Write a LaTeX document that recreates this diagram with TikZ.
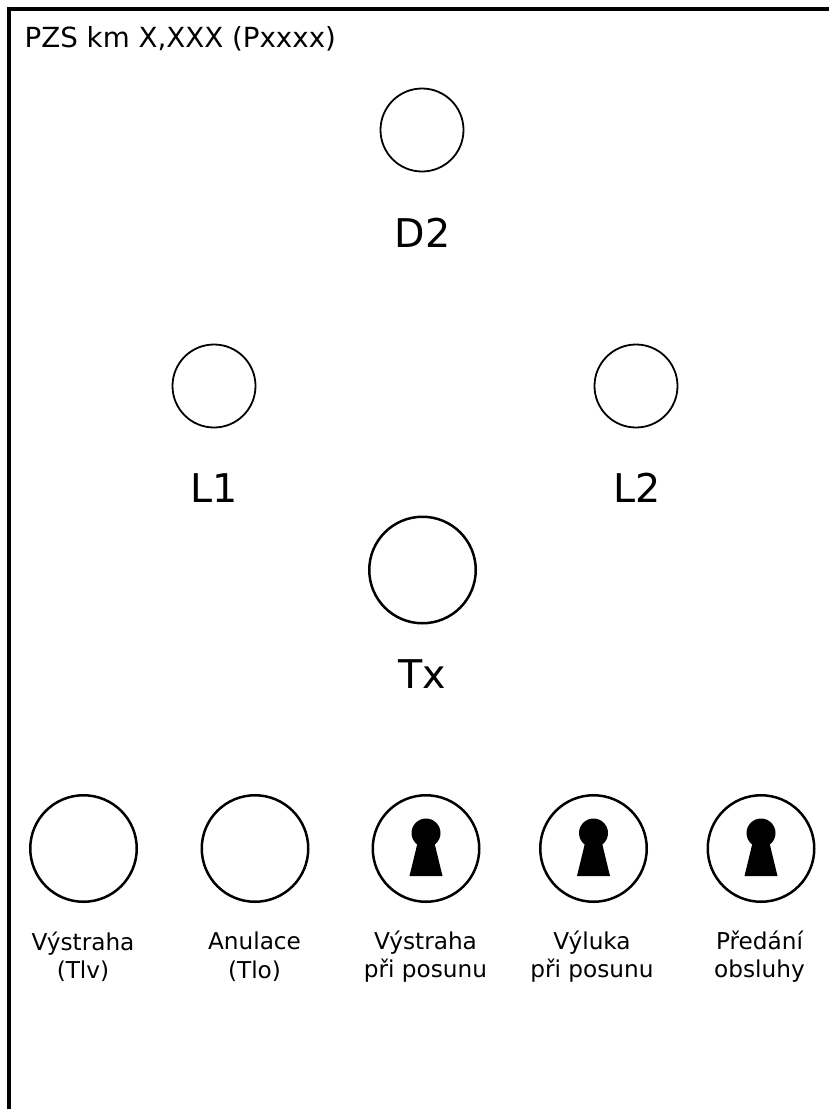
\documentclass[tikz,border=0pt]{standalone}
\usepackage{fontspec}
\setmainfont{DejaVu Sans}
\tikzset{
  x=1pt,y=-1pt,
  frameline/.style={line width=3.6pt,line cap=butt},
  lamp/.style={circle,draw,line width=1.8pt,minimum size=83pt,inner sep=0pt},
  btn/.style={circle,draw,line width=2.5pt,minimum size=106.5pt,inner sep=0pt},
  biglabel/.style={font=\fontsize{39.6}{46}\selectfont,inner sep=0pt,anchor=center},
  smalllabel/.style={font=\fontsize{23.2}{28.5}\selectfont,align=center,inner sep=0pt,anchor=center},
  titlelabel/.style={font=\fontsize{27.7}{32}\selectfont,inner sep=0pt,anchor=west},
  keyhole/.pic={
    \fill[black] (0,-16) circle[radius=14.5];
    \fill[black] (-8,-8) -- (8,-8) -- (16.5,27) -- (-16.5,27) -- cycle;
  }
}
\begin{document}
\begin{tikzpicture}
\useasboundingbox (0,0) rectangle (829,1109);
\coordinate (fa) at (9,1109);
\coordinate (fb) at (9,9);
\coordinate (fc) at (829,9);
\draw[frameline] (fa) -- (fb) -- (fc);
\node[titlelabel] (title) at (24.5,38.5) {PZS km X,XXX (Pxxxx)};
\node[lamp] (d2) at (422,130) {};
\node[biglabel] (d2t) at (422.5,232.5) {D2};
\node[lamp] (l1) at (214,386) {};
\node[biglabel] (l1t) at (214,488) {L1};
\node[lamp] (l2) at (636,386) {};
\node[biglabel] (l2t) at (637,488) {L2};
\node[btn] (tx) at (422.5,570) {};
\node[biglabel] (txt) at (422,674) {Tx};
\node[btn] (b1) at (83.5,848.5) {};
\node[btn] (b2) at (255,848.5) {};
\node[btn] (b3) at (426,848.5) {};
\node[btn] (b4) at (593.5,848.5) {};
\node[btn] (b5) at (761,848.5) {};
\pic at (426,849) {keyhole};
\pic at (593.5,849) {keyhole};
\pic at (761,849) {keyhole};
\node[smalllabel] (t1) at (83,956.5) {Výstraha\\(Tlv)};
\node[smalllabel] (t2) at (254.5,956.5) {Anulace\\(Tlo)};
\node[smalllabel] (t3) at (425.5,956.5) {Výstraha\\při posunu};
\node[smalllabel] (t4) at (592,956.5) {Výluka\\při posunu};
\node[smalllabel] (t5) at (759.5,956.5) {Předání\\obsluhy};
\end{tikzpicture}
\end{document}
